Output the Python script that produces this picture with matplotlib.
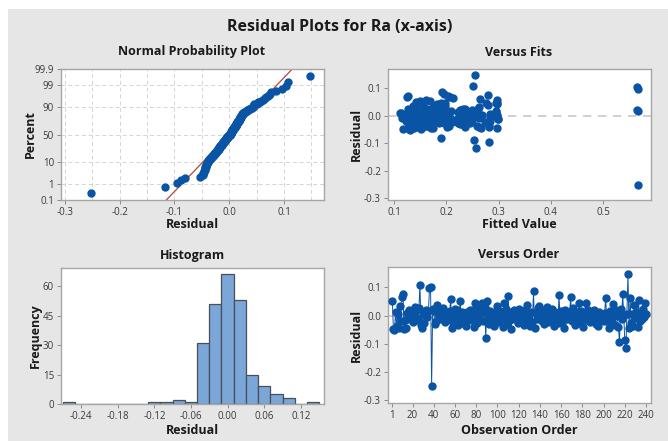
import matplotlib
matplotlib.use("Agg")
import matplotlib.pyplot as plt
from matplotlib.patches import Rectangle
from statistics import NormalDist
import numpy as np

plt.rcParams['font.family'] = ['Open Sans', 'DejaVu Sans']
plt.rcParams['axes.unicode_minus'] = False

# residuals in observation order (1..240)
residuals = [
    0.051, -0.048, -0.053, 0.012, -0.036, 0.004, -0.046, 0.034, -0.021, 0.066,
    0.077, -0.047, -0.015, -0.045, 0.008, -0.012, 0.019, -0.004, 0.014, -0.022,
    0.006, 0.032, -0.017, 0.021, -0.008, 0.026, 0.108, -0.033, -0.043, 0.011,
    -0.026, 0.003, 0.018, -0.006, 0.015, 0.097, 0.103, -0.252, 0.022, 0.017,
    -0.031, -0.018, 0.038, 0.009, -0.003, 0.024, -0.011, 0.005, 0.028, -0.007,
    -0.024, 0.013, 0.001, -0.014, 0.016, 0.058, -0.044, -0.028, 0.007, 0.023,
    -0.009, 0.019, -0.034, 0.002, 0.052, -0.019, 0.012, -0.025, -0.002, -0.038,
    0.014, -0.013, 0.006, 0.018, -0.016, 0.009, 0.021, -0.041, 0.043, -0.005,
    -0.027, 0.025, -0.012, 0.004, 0.046, -0.021, 0.011, 0.029, -0.081, 0.053,
    -0.006, -0.032, 0.017, 0.001, -0.019, 0.008, -0.036, 0.013, -0.004, 0.035,
    -0.023, 0.016, -0.008, 0.003, -0.042, 0.044, -0.014, 0.022, -0.029, 0.071,
    0.007, -0.017, -0.047, 0.012, -0.002, 0.019, -0.011, 0.005, -0.026, 0.024,
    -0.009, 0.014, -0.021, 0.006, -0.035, 0.018, -0.003, 0.036, -0.015, 0.002,
    -0.039, 0.011, -0.024, 0.086, -0.045, 0.009, -0.012, 0.027, 0.033, -0.006,
    0.015, -0.018, 0.001, -0.031, 0.020, -0.007, 0.031, -0.022, 0.008, -0.013,
    0.023, -0.004, -0.037, 0.012, -0.016, 0.004, -0.028, 0.072, -0.009, 0.017,
    -0.025, 0.006, -0.043, 0.019, -0.002, -0.014, 0.013, 0.003, 0.067, -0.019,
    0.026, -0.008, -0.033, 0.011, -0.011, 0.005, 0.045, -0.027, 0.016, -0.005,
    -0.041, 0.009, 0.044, -0.016, 0.021, -0.003, -0.023, 0.014, 0.002, -0.012,
    0.018, -0.007, -0.029, 0.007, -0.038, 0.012, -0.001, -0.015, 0.004, -0.021,
    0.008, 0.064, -0.018, 0.003, -0.044, 0.015, -0.006, -0.024, 0.041, 0.005,
    -0.035, 0.019, -0.002, -0.041, -0.095, 0.022, -0.013, 0.075, 0.002, -0.088,
    -0.117, 0.006, 0.147, -0.046, 0.061, -0.027, 0.004, -0.039, 0.039, -0.008,
    0.013, -0.042, 0.057, -0.019, 0.001, -0.011, 0.024, -0.004, 0.045, 0.007,
]

# fitted values, same order
fitted = [
    0.142, 0.118, 0.131, 0.157, 0.163, 0.149, 0.175, 0.136, 0.184, 0.208,
    0.196, 0.128, 0.145, 0.171, 0.113, 0.152, 0.188, 0.139, 0.166, 0.201,
    0.124, 0.178, 0.147, 0.193, 0.115, 0.159, 0.251, 0.134, 0.168, 0.182,
    0.205, 0.121, 0.156, 0.143, 0.199, 0.566, 0.565, 0.566, 0.565, 0.566,
    0.226, 0.137, 0.186, 0.112, 0.153, 0.232, 0.165, 0.129, 0.174, 0.141,
    0.211, 0.148, 0.119, 0.191, 0.228, 0.162, 0.138, 0.204, 0.154, 0.236,
    0.133, 0.179, 0.144, 0.161, 0.169, 0.127, 0.238, 0.151, 0.187, 0.146,
    0.223, 0.172, 0.116, 0.135, 0.194, 0.158, 0.229, 0.202, 0.183, 0.140,
    0.155, 0.134, 0.176, 0.231, 0.198, 0.122, 0.167, 0.186, 0.190, 0.150,
    0.239, 0.130, 0.185, 0.148, 0.225, 0.164, 0.206, 0.127, 0.177, 0.197,
    0.136, 0.234, 0.153, 0.117, 0.173, 0.189, 0.145, 0.227, 0.161, 0.203,
    0.132, 0.181, 0.152, 0.240, 0.168, 0.139, 0.221, 0.158, 0.195, 0.126,
    0.233, 0.147, 0.170, 0.114, 0.154, 0.209, 0.180, 0.143, 0.237, 0.163,
    0.129, 0.192, 0.175, 0.192, 0.150, 0.224, 0.138, 0.184, 0.157, 0.120,
    0.166, 0.200, 0.141, 0.230, 0.135, 0.176, 0.262, 0.149, 0.187, 0.125,
    0.171, 0.235, 0.160, 0.144, 0.199, 0.131, 0.222, 0.126, 0.178, 0.151,
    0.186, 0.142, 0.235, 0.165, 0.119, 0.198, 0.137, 0.228, 0.124, 0.173,
    0.155, 0.207, 0.130, 0.183, 0.146, 0.240, 0.276, 0.162, 0.133, 0.190,
    0.148, 0.226, 0.297, 0.169, 0.137, 0.201, 0.158, 0.232, 0.123, 0.181,
    0.140, 0.167, 0.236, 0.154, 0.128, 0.194, 0.173, 0.225, 0.145, 0.160,
    0.258, 0.212, 0.283, 0.247, 0.266, 0.296, 0.262, 0.274, 0.298, 0.255,
    0.281, 0.249, 0.297, 0.263, 0.281, 0.257, 0.299, 0.280, 0.268, 0.254,
    0.256, 0.283, 0.255, 0.298, 0.265, 0.246, 0.297, 0.259, 0.279, 0.262,
    0.295, 0.282, 0.297, 0.250, 0.264, 0.299, 0.261, 0.284, 0.296, 0.253,
]

npp_pct_ticks = [0.1, 1, 10, 50, 90, 99, 99.9]
npp_pct_labels = ["0.1", "1", "10", "50", "90", "99", "99.9"]
hist_xticks = [-0.24, -0.18, -0.12, -0.06, 0.00, 0.06, 0.12]
hist_xlabels = ["-0.24", "-0.18", "-0.12", "-0.06", "0.00", "0.06", "0.12"]
order_xticks = [1, 20, 40, 60, 80, 100, 120, 140, 160, 180, 200, 220, 240]

BLUE = "#0a54a6"
BG = "#e6e6e6"
W, H = 668, 441

fig = plt.figure(figsize=(W / 100, H / 100), dpi=100)
fig.patch.set_facecolor("white")
fig.patches.append(Rectangle((8 / W, 0), 1 - 8 / W, 1 - 9 / H, transform=fig.transFigure,
                             facecolor=BG, edgecolor="none", zorder=-10))


def px_axes(l, r, t, b):
    ax = fig.add_axes([l / W, 1 - b / H, (r - l) / W, (b - t) / H])
    ax.set_facecolor("white")
    for s in ax.spines.values():
        s.set_color("#a6a6a6")
        s.set_linewidth(1.0)
    ax.tick_params(labelsize=7, colors="#3a3a3a", length=3, width=0.7, pad=2)
    ax.tick_params(axis="both", color="#8c8c8c")
    return ax


def ftext(x, y, s, **kw):
    fig.text(x / W, 1 - y / H, s, ha="center", va="center", **kw)


res = np.array(residuals)
n = len(res)
nd = NormalDist()

# Normal probability plot
ax1 = px_axes(61, 324, 69, 200)
srt = np.sort(res)
pos = (np.arange(1, n + 1) - 0.3) / (n + 0.4)
z = np.array([nd.inv_cdf(p) for p in pos])
zlo, zhi = nd.inv_cdf(0.001), nd.inv_cdf(0.999)
mu, sd = res.mean(), res.std(ddof=1)
ax1.plot([mu + sd * zlo * 1.05, mu + sd * zhi * 1.05], [zlo * 1.05, zhi * 1.05], color="#b8453c", lw=0.9, zorder=2)
ax1.plot(srt, z, "o", ms=5, color=BLUE, mec=BLUE, zorder=3)
ax1.set_xlim(-0.307, 0.173)
ax1.set_ylim(zlo, zhi)
ax1.set_yticks([nd.inv_cdf(p / 100) for p in npp_pct_ticks])
ax1.set_yticklabels(npp_pct_labels)
ax1.set_xticks([-0.3, -0.2, -0.1, 0.0, 0.1])
ax1.set_xticklabels(["-0.3", "-0.2", "-0.1", "0.0", "0.1"])
ax1.set_xticks(np.arange(-0.25, 0.17, 0.1), minor=True)
ax1.tick_params(which="minor", length=0)
ax1.grid(True, which="both", color="#d4d4d4", linestyle=(0, (4, 3)), lw=0.7)
ax1.set_axisbelow(True)

# Versus fits
ax2 = px_axes(388, 651, 69, 200)
ax2.axhline(0, color="#c8c8c8", lw=1.2, linestyle=(0, (5, 4)), zorder=1)
ax2.plot(fitted, residuals, "o", ms=5, color=BLUE, mec=BLUE, zorder=3)
ax2.set_xlim(0.0885, 0.5917)
ax2.set_ylim(-0.306, 0.169)
ax2.set_xticks([0.1, 0.2, 0.3, 0.4, 0.5])
ax2.set_xticklabels(["0.1", "0.2", "0.3", "0.4", "0.5"])
ax2.set_yticks([-0.3, -0.2, -0.1, 0.0, 0.1])
ax2.set_yticklabels(["-0.3", "-0.2", "-0.1", "0.0", "0.1"])

# Histogram
ax3 = px_axes(61, 324, 268, 404)
ax3.hist(res, bins=np.arange(-0.27, 0.1501, 0.02), color="#7ba6d8", edgecolor="#4a4f57", lw=0.9, zorder=2)
ax3.set_xlim(-0.273, 0.158)
ax3.set_ylim(0, 69.2)
ax3.set_xticks(hist_xticks)
ax3.set_xticklabels(hist_xlabels)
ax3.set_yticks([0, 15, 30, 45, 60])

# Versus order
ax4 = px_axes(388, 651, 267, 403)
obs = np.arange(1, n + 1)
ax4.axhline(0, color="#c8c8c8", lw=1.2, linestyle=(0, (5, 4)), zorder=1)
ax4.plot(obs, res, "-", color=BLUE, lw=0.7, zorder=2)
ax4.plot(obs, res, "o", ms=5, color=BLUE, mec=BLUE, zorder=3)
ax4.set_xlim(-3.1, 244.7)
ax4.set_ylim(-0.312, 0.173)
ax4.set_xticks(order_xticks)
ax4.set_yticks([-0.3, -0.2, -0.1, 0.0, 0.1])
ax4.set_yticklabels(["-0.3", "-0.2", "-0.1", "0.0", "0.1"])

# text
ftext(340, 27, "Residual Plots for Ra (x-axis)", fontsize=11.5, fontweight="bold", color="#1a1a1a")
tkw = dict(fontsize=9, fontweight="bold", color="#1a1a1a")
ftext(192, 52, "Normal Probability Plot", **tkw)
ftext(519, 52, "Versus Fits", **tkw)
ftext(192, 256, "Histogram", **tkw)
ftext(519, 255, "Versus Order", **tkw)
ftext(192, 224, "Residual", **tkw)
ftext(519, 224, "Fitted Value", **tkw)
ftext(192, 430, "Residual", **tkw)
ftext(519, 430, "Observation Order", **tkw)
ftext(30, 134, "Percent", rotation=90, **tkw)
ftext(356, 134, "Residual", rotation=90, **tkw)
ftext(35, 336, "Frequency", rotation=90, **tkw)
ftext(356, 335, "Residual", rotation=90, **tkw)

fig.savefig("out.png", dpi=100, facecolor=fig.get_facecolor())
